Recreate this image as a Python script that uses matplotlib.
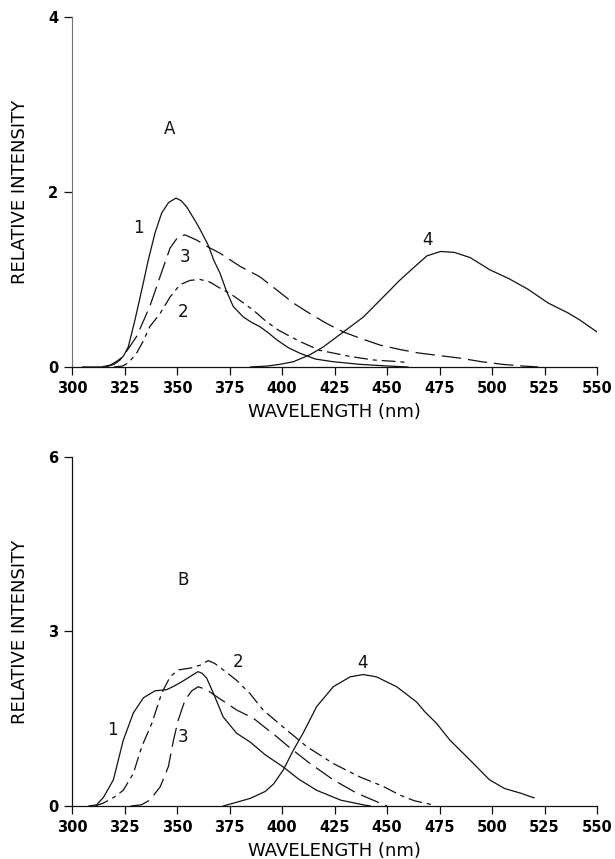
import matplotlib
matplotlib.use('Agg')
import matplotlib.pyplot as plt

plt.rcParams['font.family'] = ['DejaVu Sans']
plt.rcParams['lines.scale_dashes'] = False

# --- panel A : emission spectra ---
a1_nm = [305, 314, 318, 321, 324.4, 326.8, 330, 333.2, 336.3, 339.5, 342.7, 346, 349.5, 352, 354.6,
         359.4, 361, 364.9, 367.5, 370.5, 373.5, 376.8, 381.6, 385.5, 389.5, 393.5, 397.5, 403,
         408.6, 416, 424.4, 437, 451, 460]
a1_int = [0, 0, 0.02, 0.06, 0.12, 0.23, 0.54, 0.88, 1.22, 1.53, 1.76, 1.88, 1.93, 1.90, 1.83,
          1.64, 1.57, 1.39, 1.22, 1.07, 0.87, 0.69, 0.57, 0.51, 0.46, 0.39, 0.31, 0.22,
          0.156, 0.09, 0.06, 0.03, 0.01, 0]

a2_nm = [320, 324, 327, 330.8, 334, 337, 341.9, 346.7, 351.4, 356.2, 361, 365.7, 370.5, 375.2,
         380, 386.3, 392, 398.3, 408.6, 418, 432.4, 443.5, 456, 460]
a2_int = [0, 0.01, 0.05, 0.16, 0.30, 0.46, 0.61, 0.80, 0.94, 0.99, 1.00, 0.97, 0.90, 0.84,
          0.76, 0.65, 0.53, 0.42, 0.29, 0.19, 0.12, 0.08, 0.06, 0.05]

a3_nm = [316, 320, 322.9, 326, 330.8, 337, 341.9, 346.7, 350.6, 353.8, 359.4, 364.9, 370.5, 380,
         389.5, 397.5, 405.4, 413.3, 421, 429.2, 437, 446.7, 456, 465, 475, 485, 495, 505, 515, 522]
a3_int = [0, 0.03, 0.08, 0.18, 0.35, 0.69, 1.03, 1.36, 1.49, 1.51, 1.45, 1.37, 1.30, 1.15,
          1.03, 0.88, 0.73, 0.61, 0.50, 0.40, 0.33, 0.25, 0.20, 0.16, 0.13, 0.10, 0.06, 0.03, 0.01, 0]

a4_nm = [385, 392.7, 399, 405.4, 413.3, 419.7, 429.2, 438.7, 448.2, 456, 461.5, 469, 475.5, 482,
         489.6, 499, 508, 517, 526.8, 536, 541.6, 550]
a4_int = [0, 0.01, 0.03, 0.06, 0.14, 0.23, 0.40, 0.57, 0.80, 0.99, 1.11, 1.27, 1.32, 1.31,
          1.25, 1.11, 1.01, 0.89, 0.73, 0.62, 0.54, 0.40]

# --- panel B ---
b1_nm = [308, 311.7, 315, 319.7, 324.4, 329.2, 334, 339.5, 345, 348, 352, 356, 360, 362, 364.1,
         367.3, 372, 378.4, 384.8, 392, 400.6, 408, 416.5, 428, 438.7, 442]
b1_int = [0, 0.02, 0.15, 0.45, 1.13, 1.60, 1.86, 1.98, 2.00, 2.05, 2.13, 2.22, 2.31, 2.28, 2.20,
          1.94, 1.53, 1.25, 1.10, 0.88, 0.67, 0.46, 0.27, 0.10, 0.02, 0]

b2_nm = [311, 314.9, 320, 324.4, 329.2, 333.2, 338, 342.7, 346.7, 350.6, 356.2, 361, 364.9, 368,
         372, 378.4, 384.8, 391, 397.5, 403.8, 411.8, 424.4, 437, 448, 456, 463, 470.5, 472]
b2_int = [0, 0.05, 0.15, 0.27, 0.56, 1.02, 1.42, 1.94, 2.22, 2.34, 2.37, 2.42, 2.50, 2.45,
          2.34, 2.16, 1.93, 1.65, 1.45, 1.26, 1.02, 0.73, 0.50, 0.34, 0.19, 0.09, 0.03, 0]

b3_nm = [328, 333, 337, 342, 345.9, 348.3, 350.6, 353.8, 357, 360.1, 364, 368.9, 378.4, 386.3,
         397.5, 403.8, 413, 424.4, 435.6, 448, 450]
b3_int = [0, 0.02, 0.10, 0.33, 0.68, 1.13, 1.48, 1.82, 1.98, 2.05, 2.00, 1.88, 1.65, 1.51,
          1.19, 1.00, 0.74, 0.45, 0.22, 0.03, 0]

b4_nm = [372, 375, 384.8, 392, 396, 400.6, 405.4, 410, 416.5, 424.4, 432.4, 438.7, 445, 454.6,
         464, 468, 473.6, 480, 489.5, 498.8, 506, 513.7, 520]
b4_int = [0, 0.03, 0.13, 0.25, 0.38, 0.62, 0.96, 1.25, 1.71, 2.05, 2.22, 2.26, 2.22, 2.05,
          1.79, 1.62, 1.42, 1.13, 0.79, 0.45, 0.30, 0.22, 0.14]

# curve labels: (text, nm, intensity)
labels_a = [('A', 346.6, 2.72), ('1', 331.6, 1.59), ('3', 353.8, 1.26), ('2', 353.0, 0.63),
            ('4', 469.5, 1.45)]
labels_b = [('B', 352.9, 3.88), ('1', 319.4, 1.30), ('3', 353.0, 1.19), ('2', 379.2, 2.48),
            ('4', 438.4, 2.45)]

xticks = [300, 325, 350, 375, 400, 425, 450, 475, 500, 525, 550]

solid = dict(color='#111111', lw=0.9, linestyle='-')
dashdot = dict(color='#111111', lw=0.9, dashes=(10, 3.5, 3, 3.5))
longdash = dict(color='#111111', lw=0.9, dashes=(14, 5))

fig = plt.figure(figsize=(6.15, 8.59), dpi=100)
ax_a = fig.add_axes([0.1171, 0.5728, 0.8537, 0.4074])
ax_b = fig.add_axes([0.1171, 0.0617, 0.8537, 0.4063])

ax_a.plot(a1_nm, a1_int, **solid)
ax_a.plot(a2_nm, a2_int, **dashdot)
ax_a.plot(a3_nm, a3_int, **longdash)
ax_a.plot(a4_nm, a4_int, **solid)

ax_b.plot(b1_nm, b1_int, **solid)
ax_b.plot(b2_nm, b2_int, **dashdot)
ax_b.plot(b3_nm, b3_int, **longdash)
ax_b.plot(b4_nm, b4_int, **solid)

for ax, ymax, yt, labs in [(ax_a, 4, [0, 2, 4], labels_a), (ax_b, 6, [0, 3, 6], labels_b)]:
    ax.set_xlim(300, 550)
    ax.set_ylim(0, ymax)
    ax.set_xticks(xticks)
    ax.set_yticks(yt)
    ax.spines['top'].set_visible(False)
    ax.spines['right'].set_visible(False)
    for s in ('left', 'bottom'):
        ax.spines[s].set_linewidth(0.9)
        ax.spines[s].set_color('#111111')
    ax.tick_params(direction='out', length=6, width=0.9, pad=4, color='#111111')
    for t in ax.get_xticklabels() + ax.get_yticklabels():
        t.set_fontweight('bold')
        t.set_fontsize(10.5)
    ax.set_xlabel('WAVELENGTH (nm)', fontsize=13)
    ax.set_ylabel('RELATIVE INTENSITY', fontsize=13)
    ax.xaxis.set_label_coords(0.5, -0.102)
    ax.yaxis.set_label_coords(-0.082, 0.5)
    for txt, x, y in labs:
        ax.text(x, y, txt, ha='center', va='center', fontsize=12, color='#111111')

# scanned-looking faint axis line on the upper panel
ax_a.spines['left'].set_color('0.45')
ax_a.spines['left'].set_linewidth(0.8)

fig.savefig('out.png', dpi=100)
